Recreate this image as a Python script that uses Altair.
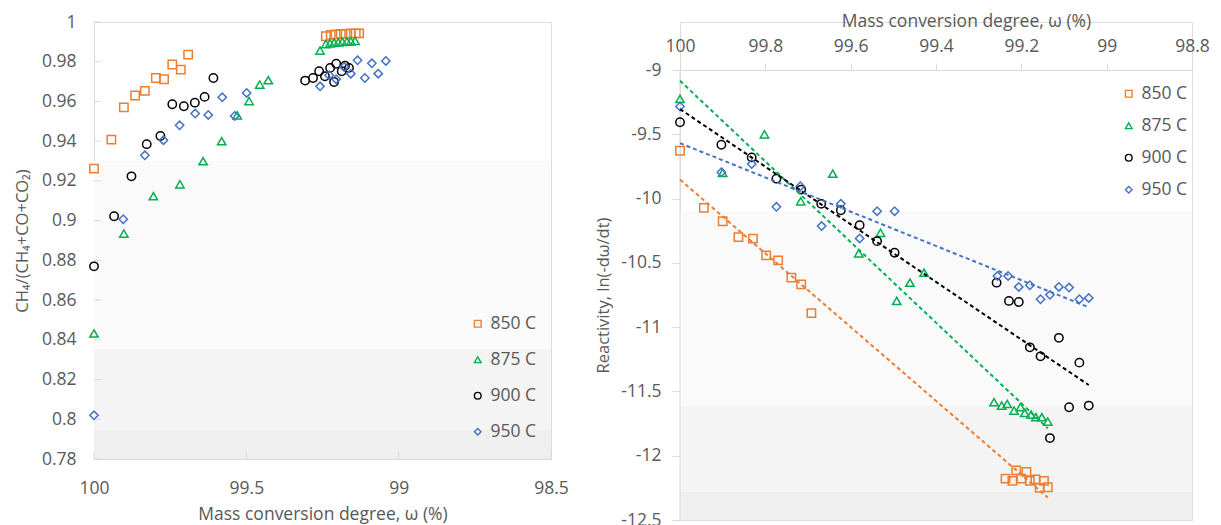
import altair as alt
import pandas as pd

temps = ["850 C", "875 C", "900 C", "950 C"]
colors = ["#ED7D31", "#00B050", "#000000", "#4472C4"]
shapes = ["square", "triangle-up", "circle", "diamond"]

# ---------- Left panel: CH4/(CH4+CO+CO2) vs conversion ----------
l850_x = [100, 99.943, 99.902, 99.865, 99.833, 99.797, 99.770, 99.743, 99.715, 99.691,
          99.239, 99.223, 99.207, 99.190, 99.174, 99.157, 99.141, 99.130]
l850_y = [0.9262, 0.9408, 0.957, 0.963, 0.9653, 0.9718, 0.9712, 0.9786, 0.976, 0.9836,
          0.9928, 0.9935, 0.9938, 0.9940, 0.9940, 0.9942, 0.9943, 0.9943]
l875_x = [100, 99.902, 99.805, 99.718, 99.642, 99.581, 99.530, 99.491, 99.456, 99.428,
          99.258, 99.239, 99.225, 99.212, 99.198, 99.185, 99.170, 99.157, 99.143]
l875_y = [0.8432, 0.8935, 0.9123, 0.9183, 0.9299, 0.940, 0.953, 0.9602, 0.9685, 0.9707,
          0.9856, 0.9889, 0.9893, 0.9896, 0.9898, 0.990, 0.9902, 0.9903, 0.9905]
l900_x = [100, 99.934, 99.877, 99.827, 99.782, 99.743, 99.705, 99.669, 99.637, 99.608,
          99.307, 99.281, 99.261, 99.242, 99.225, 99.212, 99.205, 99.187, 99.176, 99.163]
l900_y = [0.877, 0.9022, 0.9223, 0.9385, 0.9426, 0.9586, 0.9576, 0.9594, 0.9623, 0.9718,
          0.9705, 0.9718, 0.9752, 0.9727, 0.9769, 0.9698, 0.979, 0.9752, 0.978, 0.9769]
l950_x = [100, 99.904, 99.833, 99.772, 99.719, 99.668, 99.625, 99.579, 99.538, 99.499,
          99.258, 99.228, 99.205, 99.179, 99.157, 99.135, 99.111, 99.088, 99.067, 99.042]
l950_y = [0.802, 0.9007, 0.9329, 0.9405, 0.948, 0.9539, 0.9532, 0.9621, 0.9527, 0.9643,
          0.9676, 0.9732, 0.9712, 0.9774, 0.974, 0.9807, 0.9718, 0.9792, 0.974, 0.9804]

# ---------- Right panel: reactivity vs conversion ----------
r850_x = [100, 99.944, 99.900, 99.863, 99.829, 99.798, 99.770, 99.739, 99.716, 99.692,
          99.237, 99.221, 99.212, 99.200, 99.188, 99.180, 99.167, 99.157, 99.147, 99.138]
r850_y = [-9.628, -10.072, -10.176, -10.30, -10.312, -10.442, -10.481, -10.615, -10.667, -10.891,
          -12.178, -12.196, -12.114, -12.178, -12.126, -12.196, -12.184, -12.250, -12.196, -12.245]
r875_x = [100, 99.900, 99.802, 99.717, 99.642, 99.581, 99.530, 99.492, 99.461, 99.428,
          99.264, 99.246, 99.233, 99.217, 99.202, 99.192, 99.177, 99.166, 99.152, 99.138]
r875_y = [-9.225, -9.80, -9.50, -10.021, -9.806, -10.426, -10.266, -10.796, -10.654, -10.576,
          -11.584, -11.610, -11.597, -11.649, -11.622, -11.667, -11.680, -11.700, -11.700, -11.734]
r900_x = [100, 99.903, 99.832, 99.774, 99.716, 99.669, 99.623, 99.579, 99.538, 99.497,
          99.258, 99.229, 99.206, 99.180, 99.155, 99.133, 99.112, 99.088, 99.064, 99.042]
r900_y = [-9.406, -9.581, -9.68, -9.845, -9.930, -10.041, -10.091, -10.207, -10.331, -10.421,
          -10.654, -10.796, -10.804, -11.157, -11.227, -11.863, -11.083, -11.623, -11.276, -11.61]
r950_x = [100, 99.903, 99.832, 99.774, 99.718, 99.668, 99.623, 99.579, 99.538, 99.497,
          99.256, 99.231, 99.206, 99.180, 99.155, 99.133, 99.112, 99.088, 99.064, 99.042]
r950_y = [-9.284, -9.796, -9.731, -10.064, -9.904, -10.214, -10.041, -10.31, -10.098, -10.098,
          -10.602, -10.602, -10.687, -10.674, -10.783, -10.749, -10.687, -10.692, -10.783, -10.773]

# axis ticks
lx_ticks = [100, 99.5, 99, 98.5]
ly_ticks = [0.78, 0.8, 0.82, 0.84, 0.86, 0.88, 0.9, 0.92, 0.94, 0.96, 0.98, 1]
rx_ticks = [100, 99.8, 99.6, 99.4, 99.2, 99, 98.8]
ry_ticks = [-12.5, -12, -11.5, -11, -10.5, -10, -9.5, -9]

# faint background bands seen in the picture (lower, upper, fill)
lband_lo = [0.78, 0.795, 0.8355]
lband_hi = [0.795, 0.8355, 0.930]
rband_lo = [-12.5, -12.28, -11.61]
rband_hi = [-12.28, -11.61, -10.10]
band_fill = ["#efefef", "#f4f4f4", "#fafafa"]


def frame(series):
    rows = []
    for t, xs, ys in series:
        for a, b in zip(xs, ys):
            rows.append({"T": t, "x": a, "y": b})
    return pd.DataFrame(rows)


ldf = frame([("850 C", l850_x, l850_y), ("875 C", l875_x, l875_y),
             ("900 C", l900_x, l900_y), ("950 C", l950_x, l950_y)])
rdf = frame([("850 C", r850_x, r850_y), ("875 C", r875_x, r875_y),
             ("900 C", r900_x, r900_y), ("950 C", r950_x, r950_y)])

FONT = "Open Sans"
TXT = "#595959"
AX = "#d9d9d9"
FS = 17.5

color_scale = alt.Scale(domain=temps, range=colors)
shape_scale = alt.Scale(domain=temps, range=shapes)

LW, LH = 457, 437
RW = 512
R_DATA_H = 450          # height of the -12.5 .. -9 span
R_TOP_GAP = 48          # room above -9 for the top axis (right panel sits lower)
RH = R_DATA_H + R_TOP_GAP
ry_min, ry_max = min(ry_ticks), max(ry_ticks)
ry_top = ry_max + R_TOP_GAP * (ry_max - ry_min) / R_DATA_H


def legend(x, y, rowpad):
    return alt.Legend(title=None, orient="none", legendX=x, legendY=y,
                      labelFontSize=FS, labelFont=FONT, labelColor=TXT,
                      symbolSize=45, symbolStrokeWidth=1.4, rowPadding=rowpad,
                      labelOffset=4, padding=0)


def axis(**kw):
    base = dict(grid=False, labelOverlap=False, labelFlush=False, domainColor=AX,
                labelFont=FONT, labelFontSize=FS, labelColor=TXT,
                titleFont=FONT, titleColor=TXT, titleFontWeight="normal")
    base.update(kw)
    return alt.Axis(**base)


MINUS = "replace(datum.label, '\u2212', '-')"

# ----- left chart -----
lx_scale = alt.Scale(domain=[98.5, 100], reverse=True, nice=False, zero=False)
ly_scale = alt.Scale(domain=[0.78, 1], nice=False, zero=False)
lx_axis = axis(values=lx_ticks, format="~g", title="Mass conversion degree, ω (%)",
               ticks=False, labelPadding=20, titlePadding=9, titleFontSize=FS)
ly_axis = axis(values=ly_ticks, format="~g", title="CH₄/(CH₄+CO+CO₂)",
               ticks=False, labelPadding=18, titlePadding=11, titleFontSize=FS - 1)

lband_df = pd.DataFrame({"lo": lband_lo, "hi": lband_hi, "fill": band_fill})
l_bands = alt.Chart(lband_df).mark_rect().encode(
    x=alt.value(0), x2=alt.value(LW),
    y=alt.Y("lo:Q", scale=ly_scale, axis=ly_axis), y2="hi:Q",
    fill=alt.Fill("fill:N", scale=None))

lxt = alt.Chart(pd.DataFrame({"x": lx_ticks})).mark_rule(color=AX).encode(
    x=alt.X("x:Q", scale=lx_scale, axis=lx_axis), y=alt.value(LH), y2=alt.value(LH - 7))
lyt = alt.Chart(pd.DataFrame({"y": ly_ticks})).mark_rule(color=AX).encode(
    y=alt.Y("y:Q", scale=ly_scale, axis=ly_axis), x=alt.value(0), x2=alt.value(7))

l_points = alt.Chart(ldf).mark_point(filled=False, size=70, strokeWidth=1.5, opacity=1).encode(
    x=alt.X("x:Q", scale=lx_scale, axis=lx_axis),
    y=alt.Y("y:Q", scale=ly_scale, axis=ly_axis),
    color=alt.Color("T:N", scale=color_scale, legend=legend(375, 293, 17)),
    shape=alt.Shape("T:N", scale=shape_scale, legend=legend(375, 293, 17)))

left = alt.layer(l_bands, lxt, lyt, l_points).properties(width=LW, height=LH)

# ----- right chart -----
rx_scale = alt.Scale(domain=[98.8, 100], reverse=True, nice=False, zero=False)
ry_scale = alt.Scale(domain=[ry_min, ry_top], nice=False, zero=False)
rx_axis = axis(orient="top", values=rx_ticks, format="~g", title="Mass conversion degree, ω (%)",
               ticks=True, tickSize=7, tickColor=AX, labelPadding=8, titlePadding=7,
               titleFontSize=FS, offset=-R_TOP_GAP, titleX=RW / 2 + 30)
ry_axis = axis(values=ry_ticks, format="~g", labelExpr=MINUS, title="Reactivity, ln(-dω/dt)",
               ticks=True, tickSize=8, tickColor=AX, labelPadding=11, titlePadding=9,
               titleFontSize=FS - 1, domain=False, titleY=R_TOP_GAP + R_DATA_H / 2)

rband_df = pd.DataFrame({"lo": rband_lo, "hi": rband_hi, "fill": band_fill})
r_bands = alt.Chart(rband_df).mark_rect().encode(
    x=alt.value(0), x2=alt.value(RW),
    y=alt.Y("lo:Q", scale=ry_scale, axis=ry_axis), y2="hi:Q",
    fill=alt.Fill("fill:N", scale=None))

# y-axis line spanning only the tick range
r_domain = alt.Chart(pd.DataFrame({"lo": [ry_min], "hi": [ry_max]})).mark_rule(color=AX).encode(
    x=alt.value(0), y=alt.Y("lo:Q", scale=ry_scale, axis=ry_axis), y2="hi:Q")

r_points = alt.Chart(rdf).mark_point(filled=False, size=70, strokeWidth=1.5, opacity=1).encode(
    x=alt.X("x:Q", scale=rx_scale, axis=rx_axis),
    y=alt.Y("y:Q", scale=ry_scale, axis=ry_axis),
    color=alt.Color("T:N", scale=color_scale, legend=legend(440, 15 + R_TOP_GAP, 13)),
    shape=alt.Shape("T:N", scale=shape_scale, legend=legend(440, 15 + R_TOP_GAP, 13)))

r_lines = alt.Chart(rdf).transform_regression("x", "y", groupby=["T"]).mark_line(
    strokeDash=[4, 3], strokeWidth=2).encode(
    x=alt.X("x:Q", scale=rx_scale, axis=rx_axis),
    y=alt.Y("y:Q", scale=ry_scale, axis=ry_axis),
    color=alt.Color("T:N", scale=color_scale, legend=None))

right = alt.layer(r_bands, r_domain, r_points, r_lines).properties(width=RW, height=RH)

chart = alt.concat(left, right, columns=2, spacing=26, align="none").resolve_scale(
    x="independent", y="independent", color="independent", shape="independent"
).resolve_legend(color="independent", shape="independent").properties(
    padding={"left": 5, "top": 3, "right": 0, "bottom": 0}
).configure_view(strokeWidth=0).configure(background="white")

chart.save("out.html", embed_options={"renderer": "svg", "actions": False})
